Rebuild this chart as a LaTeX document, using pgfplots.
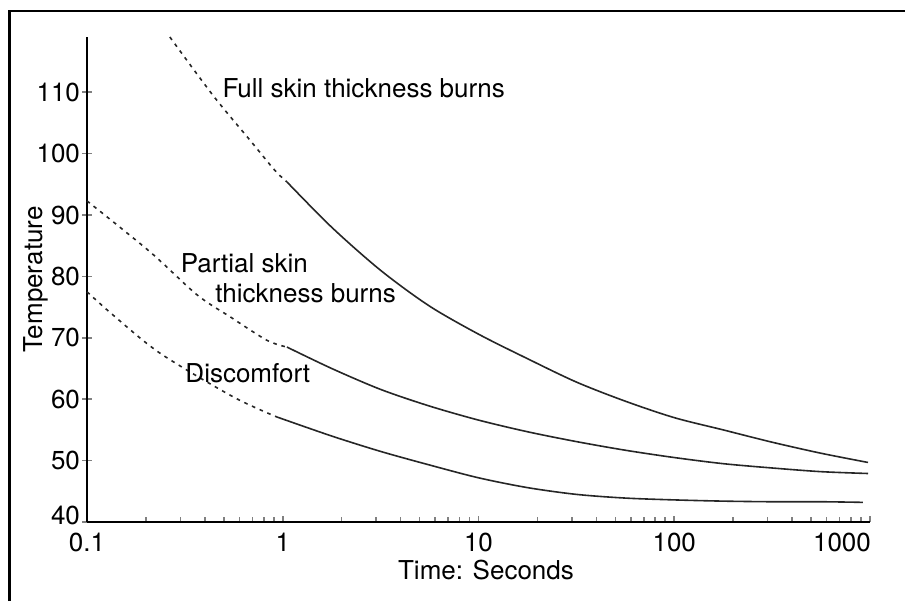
\documentclass[border=0pt]{standalone}
\usepackage{pgfplots}
\pgfplotsset{compat=1.18}
\usepackage{fontspec}
\setmainfont{TeX Gyre Heros}

% burn thresholds: temperature against exposure time (log scale)
\pgfplotstableread{
t T
0.265 119.0
0.44 109.5
0.68 102.2
0.91 97.3
1.05 95.4
}\fulldash
\pgfplotstableread{
t T
1.05 95.4
1.78 88.0
3.16 81.0
5.6 75.2
10 70.6
17.8 66.6
31.6 62.8
56 59.7
100 57.0
178 55.0
316 53.0
562 51.2
977 49.7
}\fullsolid
\pgfplotstableread{
t T
0.1 92.3
0.21 84.0
0.365 77.0
0.54 73.4
0.83 69.6
1.05 68.5
}\partdash
\pgfplotstableread{
t T
1.05 68.5
1.78 65.0
3.16 61.6
5.6 58.9
10 56.6
17.8 54.7
31.6 53.1
56 51.7
100 50.5
178 49.5
316 48.8
562 48.2
977 47.9
}\partsolid
\pgfplotstableread{
t T
0.1 77.5
0.136 73.7
0.236 67.5
0.557 60.4
0.935 57.1
}\discdash
\pgfplotstableread{
t T
0.935 57.1
1.78 54.0
3.16 51.5
5.6 49.3
10 47.2
17.8 45.6
31.6 44.5
56 43.9
100 43.6
178 43.4
316 43.3
562 43.3
920 43.2
}\discsolid

\begin{document}
\begin{tikzpicture}[font=\fontsize{13}{15}\selectfont]
\useasboundingbox (0,0) rectangle (452.5pt,300.5pt);
\draw[line width=1.2pt] (4.75pt,0) -- (4.75pt,295pt) -- (452.5pt,295pt);
\begin{axis}[
    at={(43.5pt,39.5pt)}, anchor=south west,
    scale only axis,
    width=391.5pt, height=242.5pt,
    xmode=log,
    xmin=0.1, xmax=1000,
    ymin=40, ymax=119,
    axis lines*=left,
    axis line style={line width=0.9pt},
    clip=false,
    xtick={0.1,1,10,100,1000},
    xticklabels={0.1,1,10,100,\hspace*{-28pt}1000},
    minor xtick={0.2,0.3,0.4,0.5,0.6,0.7,0.8,0.9,2,3,4,5,6,7,8,9,20,30,40,50,60,70,80,90,200,300,400,500,600,700,800,900},
    ytick={40,50,60,70,80,90,100,110},
    yticklabels={\raisebox{7pt}{40},50,60,70,80,90,100,110},
    /pgf/number format/assume math mode=true,
    x tick style={line width=0.8pt},
    y tick style={line width=0.8pt},
    xtick align=inside, ytick align=center,
    x tick label style={yshift=-2pt},
    y tick label style={inner sep=1.2pt},
    major x tick style={/pgfplots/major tick length=3pt},
    minor x tick style={/pgfplots/minor tick length=2.5pt},
    major y tick style={/pgfplots/major tick length=5pt},
    xlabel={Time: Seconds},
    ylabel={Temperature},
    xlabel style={at={(axis description cs:0.5096,-0.099)}, anchor=center},
    ylabel style={at={(axis description cs:-0.0651,0.5)}, anchor=center},
]
\addplot[black!85, line width=0.8pt, dash pattern=on 1.8pt off 2.4pt, smooth] table {\fulldash};
\addplot[black!85, line width=0.8pt, smooth] table {\fullsolid};
\addplot[black!85, line width=0.8pt, dash pattern=on 1.8pt off 2.4pt, smooth] table {\partdash};
\addplot[black!85, line width=0.8pt, smooth] table {\partsolid};
\addplot[black!85, line width=0.8pt, dash pattern=on 1.8pt off 2.4pt, smooth] table {\discdash};
\addplot[black!85, line width=0.8pt, smooth] table {\discsolid};

\node[anchor=west, inner sep=0pt] at (axis cs:0.49,110.7) {Full skin thickness burns};
\node[anchor=west, inner sep=0pt] at (axis cs:0.30,82.2) {Partial skin};
\node[anchor=west, inner sep=0pt] at (axis cs:0.45,77.3) {thickness burns};
\node[anchor=west, inner sep=0pt] at (axis cs:0.317,64.3) {Discomfort};
\end{axis}
\end{tikzpicture}
\end{document}
